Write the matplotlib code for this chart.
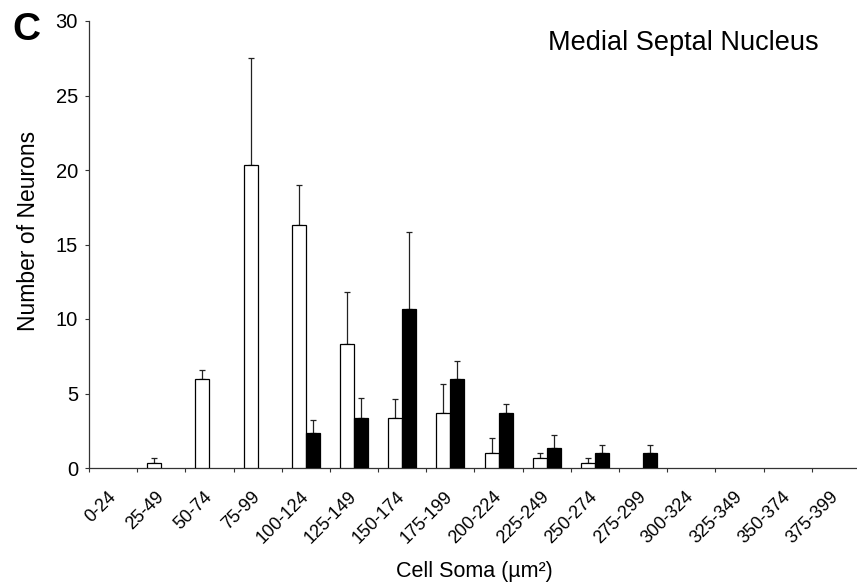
import numpy as np
import matplotlib
matplotlib.use("Agg")
import matplotlib.pyplot as plt

categories = ['0-24', '25-49', '50-74', '75-99', '100-124', '125-149', '150-174',
              '175-199', '200-224', '225-249', '250-274', '275-299', '300-324',
              '325-349', '350-374', '375-399']
white_vals = [0, 0.33, 6.0, 20.33, 16.33, 8.33, 3.33, 3.67, 1.0, 0.67, 0.33, 0, 0, 0, 0, 0]
white_err = [0, 0.33, 0.58, 7.2, 2.67, 3.47, 1.3, 2.0, 1.0, 0.33, 0.33, 0, 0, 0, 0, 0]
black_vals = [0, 0, 0, 0, 2.33, 3.33, 10.67, 6.0, 3.67, 1.33, 1.0, 1.0, 0, 0, 0, 0]
black_err = [0, 0, 0, 0, 0.87, 1.4, 5.2, 1.17, 0.65, 0.88, 0.57, 0.57, 0, 0, 0, 0]
yticks = [0, 5, 10, 15, 20, 25, 30]

plt.rcParams['font.family'] = ['Liberation Sans', 'DejaVu Sans']

W, H = 857, 585
fig = plt.figure(figsize=(W / 100, H / 100), dpi=100)
ax = fig.add_axes([89 / W, (H - 468) / H, 771 / W, (468 - 21) / H])

x = np.arange(len(categories))
bw = 0.29
wv = np.array(white_vals); we = np.array(white_err)
bv = np.array(black_vals); be = np.array(black_err)

mw = wv > 0
mb = bv > 0
ax.bar(x[mw] - bw / 2, wv[mw], width=bw, color='white', edgecolor='black', linewidth=0.9, zorder=3)
ax.bar(x[mb] + bw / 2, bv[mb], width=bw, color='black', edgecolor='black', linewidth=0.9, zorder=3)
ax.errorbar(x[mw] - bw / 2, wv[mw], yerr=[np.zeros(mw.sum()), we[mw]], fmt='none',
            ecolor='#222222', elinewidth=0.9, capsize=2.3, capthick=0.9, zorder=2)
ax.errorbar(x[mb] + bw / 2, bv[mb], yerr=[np.zeros(mb.sum()), be[mb]], fmt='none',
            ecolor='#222222', elinewidth=0.9, capsize=2.3, capthick=0.9, zorder=2)

ax.set_xlim(-0.5, len(categories) - 0.5)
ax.set_ylim(0, 30)
ax.set_yticks(yticks)
ax.set_yticklabels([str(t) for t in yticks], fontsize=14.5)
ax.set_xticks(x)
ax.set_xticklabels(categories, rotation=45, ha='right', va='center',
                   rotation_mode='anchor', fontsize=13)
ax.set_xticks(np.arange(-0.5, len(categories) - 0.5, 1), minor=True)
ax.tick_params(axis='x', which='major', length=0, pad=19)
ax.tick_params(axis='x', which='minor', length=3, width=0.8, direction='out', color='#333333')
ax.tick_params(axis='y', length=3, width=0.8, direction='out', color='#333333', pad=5)

for s in ['top', 'right']:
    ax.spines[s].set_visible(False)
for s in ['left', 'bottom']:
    ax.spines[s].set_linewidth(0.9)
    ax.spines[s].set_color('#333333')

ax.set_ylabel('Number of Neurons', fontsize=16.5)
ax.yaxis.set_label_coords(-0.078, 0.53)
ax.set_xlabel('Cell Soma (µm²)', fontsize=15.5)
ax.xaxis.set_label_coords((474 - 89) / 771, -(572 - 468) / 447)
ax.xaxis.label.set_va('center')
ax.yaxis.label.set_va('center')

fig.text(548 / W, 1 - 43 / H, 'Medial Septal Nucleus', fontsize=19.5, ha='left', va='center')
fig.text(12 / W, 1 - 30 / H, 'C', fontsize=28, fontweight='bold', ha='left', va='center')

fig.savefig('out.png', dpi=100)
